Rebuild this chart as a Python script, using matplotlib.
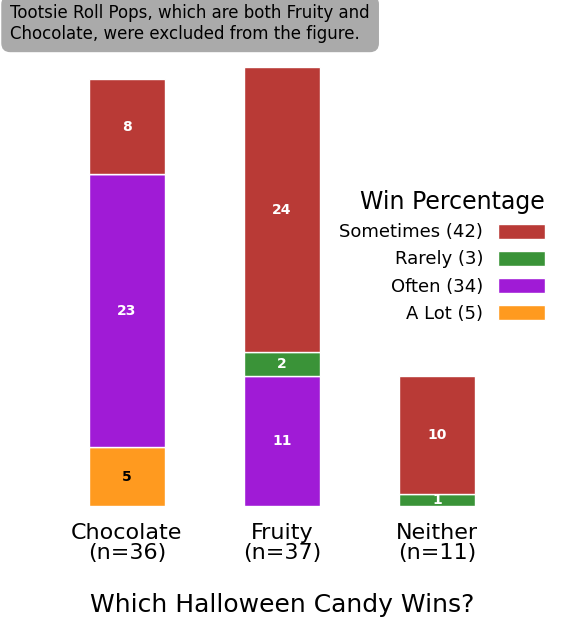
import matplotlib
matplotlib.use("Agg")
import matplotlib.pyplot as plt

categories = ["Chocolate\n(n=36)", "Fruity\n(n=37)", "Neither\n(n=11)"]
a_lot = [5, 0, 0]
often = [23, 11, 0]
rarely = [0, 2, 1]
sometimes = [8, 24, 10]
series = [
    ("A Lot (5)", a_lot, "#ff9a1f", "black"),
    ("Often (34)", often, "#a01bd6", "white"),
    ("Rarely (3)", rarely, "#3a9338", "white"),
    ("Sometimes (42)", sometimes, "#b93a36", "white"),
]

fig = plt.figure(figsize=(5.73, 6.25), dpi=100)
ax = fig.add_axes([0.005, 0.19, 0.974, 0.759])
x = range(len(categories))
bottom = [0] * len(categories)
handles = []
for label, vals, color, tc in series:
    bars = ax.bar(x, vals, 0.49, bottom=bottom, color=color, edgecolor="white",
                  linewidth=1, label=label)
    handles.append(bars)
    for i, v in enumerate(vals):
        if v:
            ax.text(i, bottom[i] + v / 2, str(v), ha="center", va="center",
                    color=tc, fontsize=10, fontweight="bold")
    bottom = [b + v for b, v in zip(bottom, vals)]

ax.set_xlim(-0.8, 2.8)
ax.set_ylim(0, 40)
ax.set_yticks([])
ax.set_xticks(list(x))
ax.set_xticklabels(categories, fontsize=16, linespacing=1.0)
ax.tick_params(axis="x", length=0, pad=12)
for s in ax.spines.values():
    s.set_visible(False)
ax.set_xlabel("Which Halloween Candy Wins?", fontsize=18, labelpad=22)

leg = ax.legend(handles[::-1], [h.get_label() for h in handles[::-1]],
                loc="upper right", bbox_to_anchor=(1.0, 0.70), frameon=False,
                markerfirst=False, fontsize=13, title="Win Percentage",
                title_fontsize=17, handlelength=2.6, handleheight=0.9,
                labelspacing=0.5, alignment="right")

fig.text(0.018, 0.962, "Tootsie Roll Pops, which are both Fruity and\nChocolate, were excluded from the figure.",
         fontsize=12, va="center", ha="left",
         bbox=dict(boxstyle="round,pad=0.5", fc="#aaaaaa", ec="#aaaaaa"))

fig.savefig("out.png", dpi=100)
